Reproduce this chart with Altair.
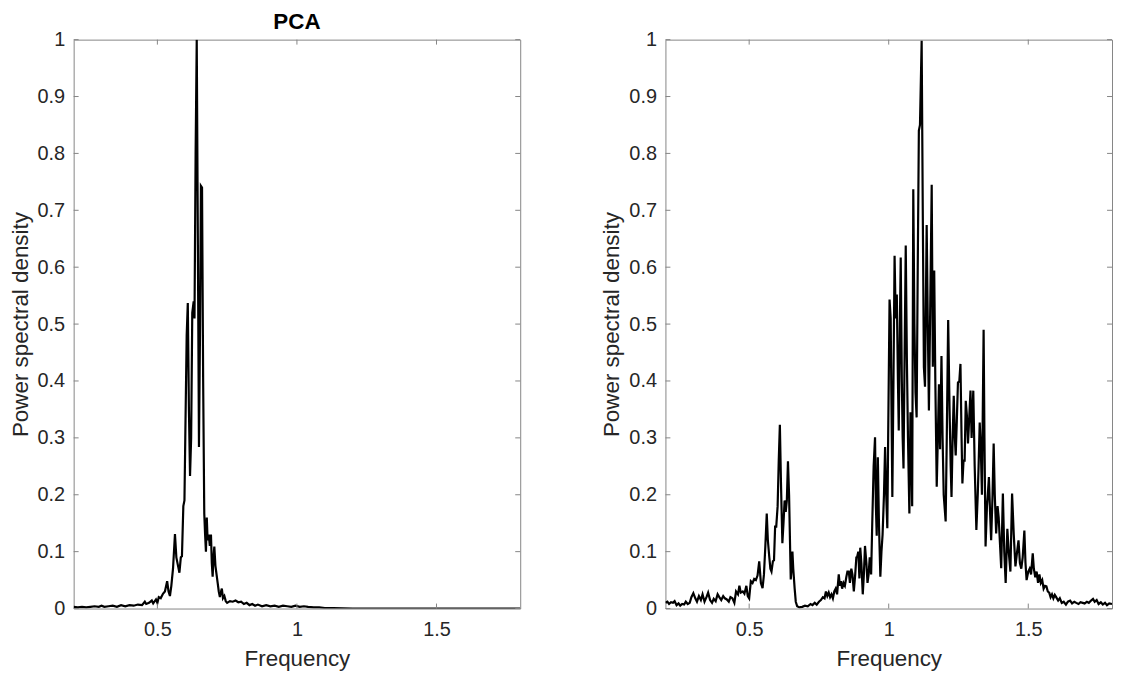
import altair as alt
import pandas as pd

# ---- Left panel (PCA) spectrum ----
pca_freq = [0.200, 0.215, 0.230, 0.245, 0.260, 0.275, 0.290, 0.300, 0.310, 0.325,
            0.340, 0.355, 0.370, 0.385, 0.400, 0.415, 0.430, 0.445, 0.455, 0.460,
            0.470, 0.480, 0.485, 0.495, 0.500, 0.505, 0.512, 0.520, 0.527, 0.535,
            0.540, 0.545, 0.550, 0.556, 0.563, 0.568, 0.574, 0.579, 0.584, 0.588,
            0.593, 0.597, 0.600, 0.605, 0.609, 0.613, 0.617, 0.621, 0.625, 0.630,
            0.633, 0.637, 0.641, 0.645, 0.649, 0.653, 0.656, 0.660, 0.664, 0.668,
            0.671, 0.674, 0.677, 0.680, 0.684, 0.688, 0.692, 0.695, 0.698, 0.701,
            0.704, 0.708, 0.712, 0.716, 0.720, 0.724, 0.727, 0.731, 0.735, 0.740,
            0.745, 0.750, 0.760, 0.770, 0.780, 0.790, 0.800, 0.810, 0.820, 0.830,
            0.840, 0.850, 0.860, 0.875, 0.890, 0.905, 0.920, 0.935, 0.950, 0.965,
            0.980, 0.995, 1.010, 1.025, 1.040, 1.060, 1.080, 1.100, 1.130, 1.200,
            1.300, 1.400, 1.500, 1.600, 1.700, 1.800]
pca_psd = [0.003, 0.002, 0.003, 0.002, 0.003, 0.004, 0.003, 0.005, 0.003, 0.004,
           0.005, 0.003, 0.006, 0.004, 0.006, 0.005, 0.007, 0.006, 0.012, 0.008,
           0.010, 0.014, 0.009, 0.016, 0.010, 0.020, 0.018, 0.026, 0.030, 0.048,
           0.030, 0.022, 0.040, 0.070, 0.131, 0.090, 0.075, 0.063, 0.090, 0.092,
           0.180, 0.190, 0.300, 0.480, 0.537, 0.350, 0.233, 0.300, 0.520, 0.540,
           0.510, 0.800, 1.000, 0.650, 0.284, 0.500, 0.743, 0.740, 0.400, 0.167,
           0.130, 0.100, 0.160, 0.120, 0.130, 0.110, 0.130, 0.080, 0.056, 0.090,
           0.109, 0.075, 0.060, 0.045, 0.030, 0.020, 0.028, 0.035, 0.018, 0.022,
           0.013, 0.010, 0.013, 0.012, 0.014, 0.011, 0.012, 0.008, 0.010, 0.006,
           0.008, 0.005, 0.007, 0.004, 0.006, 0.004, 0.005, 0.003, 0.005, 0.004,
           0.003, 0.005, 0.003, 0.004, 0.003, 0.002, 0.002, 0.001, 0.001, 0.000,
           0.000, 0.000, 0.000, 0.000, 0.000, 0.000]

# ---- Right panel spectrum ----
raw_freq = [0.200, 0.207, 0.213, 0.220, 0.227, 0.233, 0.240, 0.247, 0.253, 0.260,
            0.267, 0.273, 0.280, 0.287, 0.293, 0.300, 0.307, 0.313, 0.320, 0.327,
            0.333, 0.340, 0.347, 0.353, 0.360, 0.367, 0.373, 0.380, 0.387, 0.393,
            0.400, 0.407, 0.413, 0.420, 0.427, 0.433, 0.440, 0.447, 0.453, 0.460,
            0.465, 0.470, 0.477, 0.483, 0.490, 0.495, 0.500, 0.506, 0.512, 0.518,
            0.524, 0.530, 0.536, 0.542, 0.548, 0.553, 0.558, 0.563, 0.567, 0.572,
            0.576, 0.580, 0.585, 0.589, 0.593, 0.597, 0.602, 0.606, 0.610, 0.614,
            0.619, 0.623, 0.627, 0.631, 0.635, 0.639, 0.643, 0.647, 0.649, 0.652,
            0.655, 0.658, 0.663, 0.667, 0.672, 0.680, 0.690, 0.700, 0.710, 0.720,
            0.727, 0.735, 0.742, 0.750, 0.757, 0.764, 0.770, 0.775, 0.780, 0.785,
            0.790, 0.795, 0.800, 0.805, 0.810, 0.815, 0.821, 0.825, 0.829, 0.833,
            0.838, 0.843, 0.848, 0.852, 0.857, 0.861, 0.866, 0.870, 0.875, 0.880,
            0.884, 0.887, 0.891, 0.895, 0.898, 0.902, 0.907, 0.911, 0.915, 0.920,
            0.924, 0.928, 0.932, 0.937, 0.941, 0.946, 0.951, 0.954, 0.957, 0.961,
            0.965, 0.970, 0.974, 0.978, 0.983, 0.987, 0.991, 0.995, 0.998, 1.003,
            1.007, 1.011, 1.013, 1.017, 1.021, 1.025, 1.029, 1.033, 1.036, 1.040,
            1.043, 1.047, 1.050, 1.053, 1.057, 1.061, 1.065, 1.069, 1.074, 1.078,
            1.081, 1.084, 1.088, 1.092, 1.096, 1.100, 1.104, 1.108, 1.112, 1.118,
            1.122, 1.126, 1.130, 1.136, 1.140, 1.144, 1.148, 1.154, 1.158, 1.163,
            1.167, 1.172, 1.176, 1.180, 1.184, 1.189, 1.193, 1.197, 1.204, 1.208,
            1.213, 1.218, 1.222, 1.225, 1.229, 1.233, 1.237, 1.240, 1.244, 1.248,
            1.253, 1.257, 1.261, 1.264, 1.268, 1.272, 1.276, 1.280, 1.284, 1.288,
            1.293, 1.297, 1.303, 1.308, 1.314, 1.319, 1.322, 1.326, 1.330, 1.334,
            1.340, 1.343, 1.347, 1.352, 1.355, 1.359, 1.363, 1.367, 1.372, 1.376,
            1.380, 1.385, 1.390, 1.394, 1.398, 1.403, 1.409, 1.414, 1.419, 1.425,
            1.430, 1.436, 1.442, 1.448, 1.454, 1.460, 1.465, 1.470, 1.475, 1.480,
            1.486, 1.490, 1.494, 1.500, 1.505, 1.510, 1.516, 1.520, 1.525, 1.530,
            1.535, 1.540, 1.545, 1.550, 1.555, 1.560, 1.565, 1.570, 1.575, 1.580,
            1.585, 1.590, 1.595, 1.600, 1.607, 1.613, 1.620, 1.627, 1.635, 1.642,
            1.650, 1.657, 1.665, 1.672, 1.680, 1.687, 1.695, 1.702, 1.710, 1.717,
            1.725, 1.732, 1.738, 1.745, 1.752, 1.760, 1.767, 1.775, 1.782, 1.790,
            1.800]
raw_psd = [0.010, 0.012, 0.008, 0.011, 0.010, 0.013, 0.006, 0.009, 0.005, 0.008,
           0.007, 0.012, 0.008, 0.010, 0.020, 0.027, 0.018, 0.012, 0.022, 0.015,
           0.025, 0.012, 0.020, 0.028, 0.015, 0.010, 0.017, 0.013, 0.025, 0.020,
           0.015, 0.022, 0.018, 0.016, 0.012, 0.020, 0.018, 0.010, 0.030, 0.025,
           0.040, 0.028, 0.030, 0.026, 0.040, 0.022, 0.018, 0.048, 0.045, 0.052,
           0.050, 0.058, 0.083, 0.045, 0.036, 0.060, 0.110, 0.167, 0.120, 0.091,
           0.070, 0.065, 0.083, 0.085, 0.144, 0.144, 0.180, 0.260, 0.323, 0.220,
           0.115, 0.150, 0.190, 0.170, 0.190, 0.259, 0.200, 0.100, 0.051, 0.070,
           0.100, 0.070, 0.035, 0.012, 0.004, 0.002, 0.003, 0.005, 0.004, 0.008,
           0.006, 0.010, 0.007, 0.012, 0.015, 0.020, 0.018, 0.030, 0.022, 0.028,
           0.020, 0.025, 0.018, 0.030, 0.035, 0.025, 0.060, 0.040, 0.048, 0.035,
           0.045, 0.040, 0.055, 0.065, 0.065, 0.045, 0.070, 0.060, 0.030, 0.060,
           0.090, 0.091, 0.100, 0.053, 0.107, 0.080, 0.025, 0.060, 0.110, 0.080,
           0.045, 0.060, 0.090, 0.060, 0.150, 0.250, 0.301, 0.180, 0.128, 0.266,
           0.150, 0.056, 0.100, 0.130, 0.200, 0.284, 0.200, 0.141, 0.300, 0.543,
           0.510, 0.300, 0.196, 0.400, 0.620, 0.510, 0.552, 0.400, 0.313, 0.500,
           0.617, 0.400, 0.300, 0.246, 0.450, 0.638, 0.440, 0.300, 0.167, 0.345,
           0.300, 0.180, 0.737, 0.500, 0.380, 0.336, 0.600, 0.840, 0.850, 0.998,
           0.700, 0.424, 0.390, 0.674, 0.500, 0.348, 0.500, 0.745, 0.425, 0.594,
           0.400, 0.214, 0.300, 0.394, 0.280, 0.444, 0.300, 0.200, 0.153, 0.300,
           0.507, 0.350, 0.250, 0.196, 0.300, 0.374, 0.300, 0.269, 0.330, 0.397,
           0.400, 0.430, 0.300, 0.220, 0.260, 0.260, 0.365, 0.340, 0.290, 0.330,
           0.383, 0.300, 0.383, 0.250, 0.138, 0.200, 0.250, 0.327, 0.280, 0.200,
           0.490, 0.300, 0.109, 0.180, 0.200, 0.231, 0.170, 0.120, 0.200, 0.290,
           0.200, 0.132, 0.180, 0.160, 0.120, 0.071, 0.202, 0.100, 0.045, 0.140,
           0.100, 0.065, 0.202, 0.130, 0.074, 0.100, 0.120, 0.080, 0.070, 0.090,
           0.137, 0.080, 0.050, 0.065, 0.070, 0.060, 0.097, 0.070, 0.055, 0.065,
           0.045, 0.060, 0.045, 0.050, 0.035, 0.040, 0.039, 0.030, 0.028, 0.020,
           0.025, 0.018, 0.024, 0.020, 0.014, 0.018, 0.010, 0.012, 0.007, 0.012,
           0.014, 0.009, 0.012, 0.010, 0.008, 0.011, 0.010, 0.009, 0.012, 0.010,
           0.014, 0.017, 0.012, 0.015, 0.008, 0.011, 0.007, 0.010, 0.006, 0.009,
           0.008]

x_ticks = [0.5, 1.0, 1.5]
y_ticks = [0.0, 0.1, 0.2, 0.3, 0.4, 0.5, 0.6, 0.7, 0.8, 0.9, 1.0]

W, H = 449, 572
FRAME = "#858585"
TXT = "#262626"
FONT = "Liberation Sans"
TICK = 5

xt_df = pd.DataFrame({"f": x_ticks})
yt_df = pd.DataFrame({"p": y_ticks})

x_scale = alt.Scale(domain=[0.2, 1.8], nice=False, zero=False)
y_scale = alt.Scale(domain=[0, 1], nice=False)

AX_STYLE = dict(ticks=False, domain=False, grid=False,
                labelFont=FONT, titleFont=FONT, labelFontSize=20, titleFontSize=22.5,
                labelColor=TXT, titleColor=TXT, titleFontWeight="normal")

X_ENC = alt.X("f:Q", scale=x_scale,
              axis=alt.Axis(values=x_ticks, format="~g", title="Frequency",
                            labelPadding=11, titlePadding=8, **AX_STYLE))
Y_ENC = alt.Y("p:Q", scale=y_scale,
              axis=alt.Axis(values=y_ticks, format="~g",
                            title="Power spectral density",
                            labelPadding=9, titlePadding=5, **AX_STYLE))


def panel(freq, psd, title_text):
    df = pd.DataFrame({"f": freq, "p": psd})
    line = alt.Chart(df).mark_line(color="black", strokeWidth=2.2, clip=True).encode(
        x=X_ENC, y=Y_ENC)
    xt_top = alt.Chart(xt_df).mark_rule(color=FRAME, strokeWidth=1).encode(
        x=X_ENC, y=alt.value(0), y2=alt.value(TICK))
    xt_bot = alt.Chart(xt_df).mark_rule(color=FRAME, strokeWidth=1).encode(
        x=X_ENC, y=alt.value(H), y2=alt.value(H - TICK))
    yt_left = alt.Chart(yt_df).mark_rule(color=FRAME, strokeWidth=1).encode(
        y=Y_ENC, x=alt.value(0), x2=alt.value(TICK))
    yt_right = alt.Chart(yt_df).mark_rule(color=FRAME, strokeWidth=1).encode(
        y=Y_ENC, x=alt.value(W), x2=alt.value(W - TICK))
    return alt.layer(line, xt_top, xt_bot, yt_left, yt_right).properties(
        width=W, height=H,
        title=alt.TitleParams(title_text, fontSize=22.5, fontWeight="bold",
                              font=FONT, color="black", anchor="middle",
                              offset=-3.5, frame="group"),
    )


left = panel(pca_freq, pca_psd, "PCA")
right = panel(raw_freq, raw_psd, " ")

chart = alt.hconcat(left, right, spacing=79).properties(
    padding={"left": 0, "top": 0, "right": 0, "bottom": 0},
    background="white",
).configure_view(
    stroke=FRAME, strokeWidth=1
)

chart.save("out.html", embed_options={"renderer": "svg", "actions": False})
